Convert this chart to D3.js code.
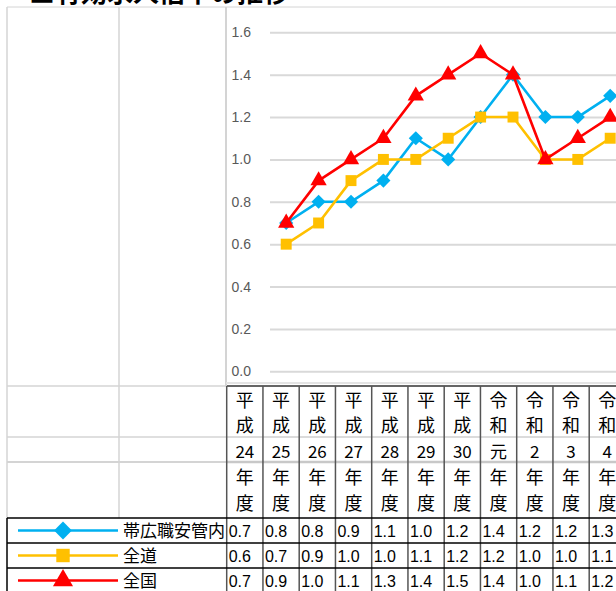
<!DOCTYPE html>
<html>
<head>
<meta charset="utf-8">
<script src="https://cdn.jsdelivr.net/npm/d3@7"></script>
<style>
  body { margin: 0; background: #fff; }
  svg { display: block; }
</style>
</head>
<body>
<div id="chart"></div>
<script>
// data
var eras = ["平成", "平成", "平成", "平成", "平成", "平成", "平成", "令和", "令和", "令和", "令和"];
var years = ["24", "25", "26", "27", "28", "29", "30", "元", "2", "3", "4"];
var categories = eras.map(function(e, i) { return e + years[i]; });
var seriesNames = ["帯広職安管内", "全道", "全国"];
var obihiro = [0.7, 0.8, 0.8, 0.9, 1.1, 1.0, 1.2, 1.4, 1.2, 1.2, 1.3];
var zendo = [0.6, 0.7, 0.9, 1.0, 1.0, 1.1, 1.2, 1.2, 1.0, 1.0, 1.1];
var zenkoku = [0.7, 0.9, 1.0, 1.1, 1.3, 1.4, 1.5, 1.4, 1.0, 1.1, 1.2];
var yTicks = [0.0, 0.2, 0.4, 0.6, 0.8, 1.0, 1.2, 1.4, 1.6];

// diamond = square turned 45deg
var series = [
    {name: seriesNames[0], values: obihiro, color: "#00B0F0", symbol: d3.symbolSquare, size: 100, rot: 45},
    {name: seriesNames[1], values: zendo, color: "#FFC000", symbol: d3.symbolSquare, size: 120, rot: 0},
    {name: seriesNames[2], values: zenkoku, color: "#FF0000", symbol: d3.symbolTriangle, size: 115, rot: 0}
];

var W = 616, H = 591;
var svg = d3.select("#chart")
    .append("svg")
    .attr("width", W)
    .attr("height", H);

var cjk = "'Noto Sans CJK JP', sans-serif";
var gridGray = "#d4d4d4";

// title (cut off at top, like the reference)
svg.append("text")
    .attr("x", 29)
    .attr("y", 2)
    .style("font-family", cjk)
    .style("font-size", "26px")
    .style("font-weight", "bold")
    .style("fill", "#000")
    .text("■有効求人倍率の推移");

// sheet gridlines
svg.append("line").attr("x1", 7).attr("x2", W).attr("y1", 7).attr("y2", 7)
    .style("stroke", gridGray).style("stroke-width", 1);
[7, 119].forEach(function(x) {
    svg.append("line").attr("x1", x).attr("x2", x).attr("y1", 7).attr("y2", 518)
        .style("stroke", gridGray).style("stroke-width", 1.5);
});
[386, 437].forEach(function(y) {
    svg.append("line").attr("x1", 7).attr("x2", 227).attr("y1", y).attr("y2", y)
        .style("stroke", gridGray).style("stroke-width", 1.5);
});
svg.append("line").attr("x1", 7).attr("x2", 227).attr("y1", 462).attr("y2", 462)
    .style("stroke", gridGray).style("stroke-width", 2);

// chart area border
svg.append("line").attr("x1", 226).attr("x2", 226).attr("y1", 7).attr("y2", 386)
    .style("stroke", gridGray).style("stroke-width", 2);
svg.append("line").attr("x1", 226).attr("x2", W).attr("y1", 383).attr("y2", 383)
    .style("stroke", "#e4e4e4").style("stroke-width", 2);

// scales
var x = d3.scaleBand()
    .domain(categories)
    .range([270, 270 + 32.4 * categories.length]);
var y = d3.scaleLinear()
    .domain([0, 1.6])
    .range([371.3, 32.3]);

// y gridlines + labels
var yAxis = svg.append("g")
    .attr("transform", "translate(270,0)")
    .call(d3.axisLeft(y).tickValues(yTicks).tickFormat(d3.format(".1f"))
        .tickSize(-(W - 270)).tickPadding(19));
yAxis.select(".domain").remove();
yAxis.selectAll(".tick line").style("stroke", "#d9d9d9").style("stroke-width", 2);
yAxis.selectAll(".tick text")
    .style("font-family", "'Liberation Sans', Arial, sans-serif")
    .style("font-size", "14px")
    .style("fill", "#595959");

// lines and markers
var line = d3.line()
    .x(function(d, i) { return x(categories[i]) + x.bandwidth() / 2; })
    .y(function(d) { return y(d); });

series.forEach(function(s) {
    svg.append("path")
        .datum(s.values)
        .attr("d", line)
        .style("fill", "none")
        .style("stroke", s.color)
        .style("stroke-width", 2.6)
        .style("stroke-linejoin", "round");
    svg.selectAll(null)
        .data(s.values)
        .enter()
        .append("path")
        .attr("d", d3.symbol().type(s.symbol).size(s.size))
        .attr("transform", function(d, i) {
            return "translate(" + (x(categories[i]) + x.bandwidth() / 2) + "," + y(d) + ") rotate(" + s.rot + ")";
        })
        .style("fill", s.color);
});

// data table
var tx = d3.scaleBand()
    .domain(categories)
    .range([226.7, 226.7 + 36.25 * categories.length]);

var headerTop = 386, headerBottom = 518;
var rowH = 25;

// header row lines
svg.append("line").attr("x1", 227).attr("x2", W).attr("y1", headerTop).attr("y2", headerTop)
    .style("stroke", "#333").style("stroke-width", 1.5);
svg.append("line").attr("x1", 227).attr("x2", W).attr("y1", 437).attr("y2", 437)
    .style("stroke", "#cfcfcf").style("stroke-width", 1.5);
svg.append("line").attr("x1", 227).attr("x2", W).attr("y1", 462).attr("y2", 462)
    .style("stroke", "#c8c8c8").style("stroke-width", 2.5);

// vertical table lines
categories.concat(["end"]).forEach(function(c, i) {
    var xx = i < categories.length ? tx(c) : tx.range()[1];
    svg.append("line").attr("x1", xx).attr("x2", xx).attr("y1", headerTop).attr("y2", H)
        .style("stroke", "#555").style("stroke-width", 1.5);
});

// header text
var head = svg.append("g")
    .style("font-family", cjk)
    .style("fill", "#000")
    .attr("text-anchor", "middle");
categories.forEach(function(c, i) {
    var cx = tx(c) + tx.bandwidth() / 2;
    head.append("text").attr("x", cx).attr("y", 407).style("font-size", "18px").text(eras[i].charAt(0));
    head.append("text").attr("x", cx).attr("y", 432).style("font-size", "18px").text(eras[i].charAt(1));
    head.append("text").attr("x", cx).attr("y", 458).style("font-size", "17px").text(years[i]);
    head.append("text").attr("x", cx).attr("y", 484).style("font-size", "18px").text("年");
    head.append("text").attr("x", cx).attr("y", 510).style("font-size", "18px").text("度");
});

// data rows
series.forEach(function(s, r) {
    var top = headerBottom + r * rowH;
    svg.append("line").attr("x1", 7).attr("x2", W).attr("y1", top).attr("y2", top)
        .style("stroke", "#000").style("stroke-width", 1.5);
    svg.append("line").attr("x1", 7).attr("x2", 7).attr("y1", top).attr("y2", top + rowH)
        .style("stroke", "#000").style("stroke-width", 1.5);
    var cy = top + rowH / 2;
    // legend key
    svg.append("line").attr("x1", 18).attr("x2", 118).attr("y1", cy).attr("y2", cy)
        .style("stroke", s.color).style("stroke-width", 2.6);
    svg.append("path")
        .attr("d", d3.symbol().type(s.symbol).size(s.size + 60))
        .attr("transform", "translate(63," + cy + ") rotate(" + s.rot + ")")
        .style("fill", s.color);
    svg.append("text")
        .attr("x", 123).attr("y", cy + 6)
        .style("font-family", cjk).style("font-size", "17px").style("fill", "#000")
        .text(s.name);
    svg.selectAll(null)
        .data(s.values)
        .enter()
        .append("text")
        .attr("x", function(d, i) { return tx(categories[i]) + 2; })
        .attr("y", cy + 6)
        .style("font-family", "'Liberation Sans', Arial, sans-serif")
        .style("font-size", "16px")
        .style("fill", "#000")
        .text(function(d) { return d3.format(".1f")(d); });
});
</script>
</body>
</html>
